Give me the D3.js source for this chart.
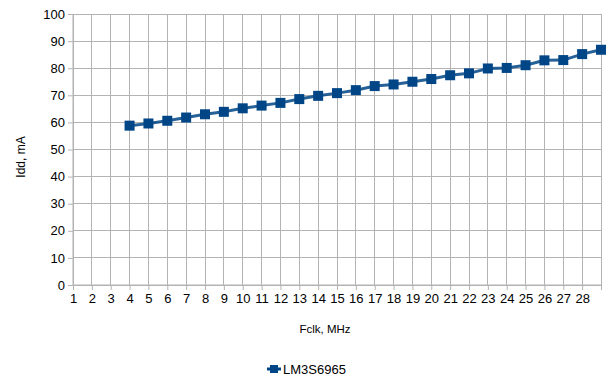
<!DOCTYPE html>
<html><head><meta charset="utf-8">
<script src="https://cdn.jsdelivr.net/npm/d3@7"></script>
<style>body{margin:0;background:#fff}svg{display:block;font-family:"Liberation Sans",Arial,sans-serif}</style>
</head><body>
<svg id="c" width="610" height="378"></svg>
<script>
const categories = d3.range(1, 30); // 1..29
const tickLabels = d3.range(1, 29); // 1..28 shown
const seriesX = [4,5,6,7,8,9,10,11,12,13,14,15,16,17,18,19,20,21,22,23,24,25,26,27,28,29];
const seriesY = [58.8,59.6,60.6,61.8,63.0,63.9,65.2,66.2,67.2,68.6,69.8,70.8,71.9,73.4,74.0,75.0,76.0,77.4,78.1,79.9,80.1,81.1,82.9,83.0,85.2,86.8];
const yTicks = [0,10,20,30,40,50,60,70,80,90,100];
const seriesName = "LM3S6965";

const svg = d3.select("#c");
const L = 73, R = 601, T = 14, B = 285;
const x = d3.scalePoint().domain(categories).range([L, R]);
const y = d3.scaleLinear().domain([0, 100]).range([B, T]);
const grid = "#b3b3b3", col = "#004586";

// grid
svg.append("g").selectAll("line").data(yTicks).join("line")
  .attr("x1", L).attr("x2", R).attr("y1", d => y(d)).attr("y2", d => y(d))
  .attr("stroke", grid).attr("stroke-width", 1).attr("shape-rendering", "crispEdges");
svg.append("g").selectAll("line").data(categories).join("line")
  .attr("x1", d => x(d)).attr("x2", d => x(d)).attr("y1", T).attr("y2", B)
  .attr("stroke", grid).attr("stroke-width", 1).attr("shape-rendering", "crispEdges");

// y axis
const ya = d3.axisLeft(y).tickValues(yTicks).tickSize(5).tickPadding(3);
const gy = svg.append("g").attr("transform", `translate(${L},0)`).call(ya);
gy.select(".domain").attr("stroke", grid).attr("d", `M0,${T}V${B}`);
gy.selectAll(".tick line").attr("stroke", grid);
gy.selectAll("text").attr("font-size", 13).attr("fill", "#000").attr("font-family", "Liberation Sans, Arial, sans-serif");

// x axis
const xa = d3.axisBottom(x).tickValues(categories).tickSize(5).tickPadding(4)
  .tickFormat(d => tickLabels.includes(d) ? d : "");
const gx = svg.append("g").attr("transform", `translate(0,${B})`).call(xa);
gx.select(".domain").attr("stroke", grid).attr("d", `M${L},0H${R}`);
gx.selectAll(".tick line").attr("stroke", grid);
gx.selectAll("text").attr("font-size", 13).attr("fill", "#000").attr("font-family", "Liberation Sans, Arial, sans-serif");

// line
const pts = seriesX.map((c, i) => [c, seriesY[i]]);
svg.append("path").datum(pts)
  .attr("fill", "none").attr("stroke", col).attr("stroke-width", 3).attr("stroke-opacity", 0.85)
  .attr("d", d3.line().x(d => x(d[0])).y(d => y(d[1])));
svg.append("g").selectAll("rect").data(pts).join("rect")
  .attr("x", d => x(d[0]) - 5).attr("y", d => y(d[1]) - 5)
  .attr("width", 10).attr("height", 10).attr("fill", col);

// titles
svg.append("text").attr("x", 325).attr("y", 333).attr("text-anchor", "middle")
  .attr("font-size", 11.5).text("Fclk, MHz");
svg.append("text").attr("transform", "translate(25,157) rotate(-90)").attr("text-anchor", "middle")
  .attr("font-size", 12).text("Idd, mA");

// legend
const lg = svg.append("g");
lg.append("line").attr("x1", 267).attr("x2", 281).attr("y1", 369).attr("y2", 369)
  .attr("stroke", col).attr("stroke-width", 3);
lg.append("rect").attr("x", 270).attr("y", 365).attr("width", 8).attr("height", 8).attr("fill", col);
lg.append("text").attr("x", 283).attr("y", 373.5).attr("font-size", 13).text(seriesName);
</script>
</body></html>
